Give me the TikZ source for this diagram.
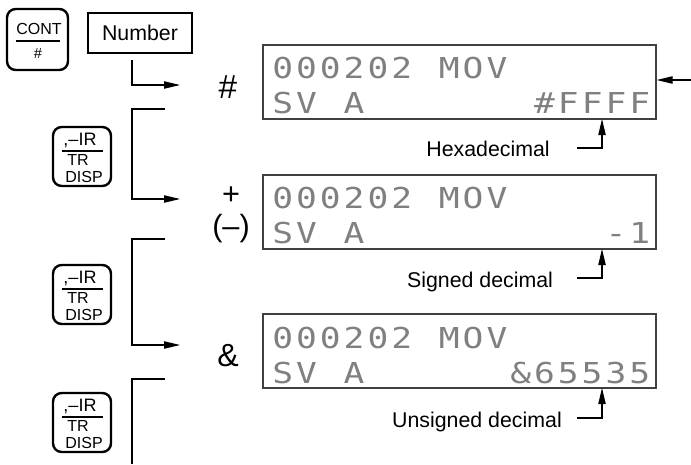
\documentclass[tikz,border=0pt]{standalone}
\usepackage{fontspec}
\setmainfont{Liberation Sans}
\newfontfamily\lcdfont[FakeStretch=1.2]{DejaVu Sans Mono}
\usetikzlibrary{arrows.meta}
\makeatletter
\newcommand\lcdline[1]{\@tfor\lcdch:=#1\do{\makebox[17.85pt][c]{\lcdch}}}
\makeatother
\begin{document}
\begin{tikzpicture}[x=0.75pt,y=-0.75pt,
  keybox/.style={draw, line width=1.8pt, rounded corners=6.5pt, minimum width=43.5pt, minimum height=44.25pt, inner sep=0},
  keytxt/.style={inner sep=0, font=\fontsize{12pt}{12pt}\selectfont},
  keybar/.style={line width=1.5pt},
  lcd/.style={draw=black!75, line width=0.9pt, minimum width=294.75pt, minimum height=55.5pt, inner sep=0},
  lcdtxt/.style={inner sep=0, anchor=base west, text=black!50, font=\lcdfont\fontsize{21.6pt}{21.6pt}\selectfont},
  lbl/.style={inner sep=0, font=\fontsize{16pt}{16pt}\selectfont},
  sym/.style={inner sep=0, font=\fontsize{25pt}{25pt}\selectfont},
  arr/.style={-{Triangle[length=12pt,width=5.5pt]}, line width=0.8pt},
  ln/.style={line width=0.8pt}]
\useasboundingbox (0,0) rectangle (691,464);

% CONT key
\node[keybox, minimum width=45.75pt, minimum height=45.75pt] (cont) at (37.5,39.5) {};
\node[keytxt] (contt) at (39,29) {CONT};
\draw[keybar] (16,41) -- (60,41);
\node[keytxt, font=\fontsize{11pt}{11pt}\selectfont] (conth) at (38,53) {\#};

% Number box
\node[draw, line width=0.8pt, minimum width=78pt, minimum height=30pt, inner sep=0, font=\fontsize{16pt}{16pt}\selectfont] (num) at (140,33) {Number};

% TR/DISP keys
\foreach \n/\t in {k2/127,k3/265,k4/393}{
  \node[keybox] (\n) at (82,\t+29.5) {};
  \node[keytxt, font=\fontsize{13.5pt}{13.5pt}\selectfont] (\n a) at (80,\t+13) {,\textendash IR};
  \draw[keybar] (62,\t+24) -- (103,\t+24);
  \node[keytxt] (\n b) at (78,\t+33) {TR};
  \node[keytxt] (\n c) at (84,\t+50) {DISP};
}

% brackets
\coordinate (b1s) at (132,60); \coordinate (b1e) at (180,85);
\draw[arr] (b1s) |- (b1e);
\coordinate (b2s) at (165,109); \coordinate (b2c) at (132,109); \coordinate (b2e) at (180,199);
\draw[arr] (b2s) -- (b2c) |- (b2e);
\coordinate (b3s) at (165,239); \coordinate (b3c) at (132,239); \coordinate (b3e) at (180,345);
\draw[arr] (b3s) -- (b3c) |- (b3e);
\coordinate (b4s) at (165,379); \coordinate (b4c) at (132,379); \coordinate (b4e) at (132,464);
\draw[ln] (b4s) -- (b4c) -- (b4e);

% symbols
\node[sym] (hash) at (228,87) {\#};
\node[sym, font=\fontsize{23pt}{23pt}\selectfont] (plus) at (231,196) {+};
\node[sym, font=\fontsize{23pt}{23pt}\selectfont] (minus) at (231,229) {(\textendash)};
\node[sym, font=\fontsize{24pt}{24pt}\selectfont] (amp) at (228,356) {\&};

% displays
\node[lcd] (d1) at (459.5,82) {};
\node[lcdtxt] (d1a) at (270.6,78) {\lcdline{000202~MOV}};
\node[lcdtxt] (d1b) at (270.6,113) {\lcdline{SV~A~~~~~~~\#FFFF}};
\node[lcd] (d2) at (459.5,212) {};
\node[lcdtxt] (d2a) at (270.6,208) {\lcdline{000202~MOV}};
\node[lcdtxt] (d2b) at (270.6,243) {\lcdline{SV~A~~~~~~~~~~-1}};
\node[lcd] (d3) at (459.5,351) {};
\node[lcdtxt] (d3a) at (270.6,348) {\lcdline{000202~MOV}};
\node[lcdtxt] (d3b) at (270.6,383) {\lcdline{SV~A~~~~~~\&65535}};

% incoming arrow on the right
\coordinate (rin) at (691,80);
\draw[arr] (rin) -- (rin -| d1.east);

% labels with arrows
\node[lbl] (hex) at (488,149) {Hexadecimal};
\coordinate (h1) at (577,148); \coordinate (h1t) at (602,119);
\draw[arr] (h1) -| (h1t);
\node[lbl] (sgn) at (480,282) {Signed decimal};
\coordinate (h2) at (577,278); \coordinate (h2t) at (602,249);
\draw[arr] (h2) -| (h2t);
\node[lbl] (usg) at (477,422) {Unsigned decimal};
\coordinate (h3) at (577,418); \coordinate (h3t) at (602,388);
\draw[arr] (h3) -| (h3t);
\end{tikzpicture}
\end{document}
